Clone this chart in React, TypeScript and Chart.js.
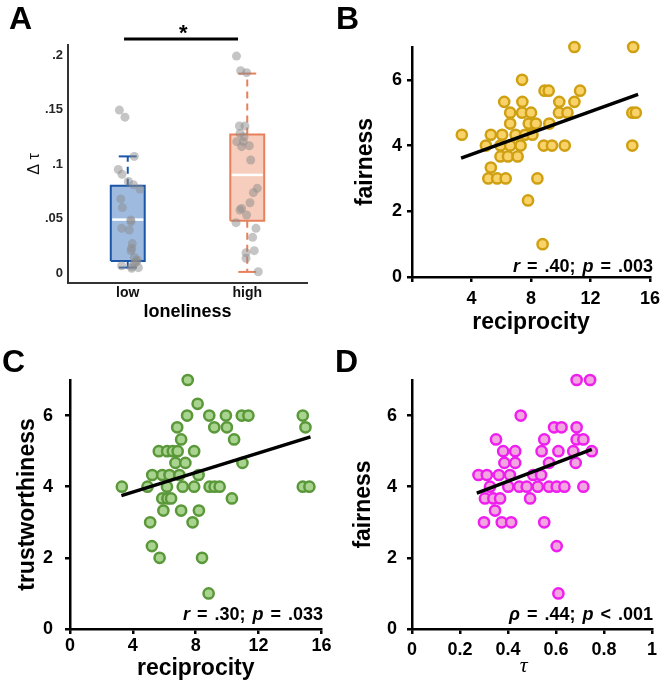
import React, { useEffect, useRef } from 'react';
import { Chart, registerables } from 'chart.js';

Chart.register(...registerables);

const FONT = '"Liberation Sans", Arial, Helvetica, sans-serif';
const SERIF = '"Liberation Serif", "Times New Roman", serif';

// ---------- Panel A : box plot ----------
const groupLabels = ['low', 'high'];
const groupX = [0.5, 1.5];
const boxQ1 = [0.011, 0.048];
const boxQ3 = [0.08, 0.127];
const boxMedian = [0.049, 0.09];
const whiskerLow = [0.005, 0.001];
const whiskerHigh = [0.107, 0.183];
const boxFill = ['rgba(98,146,204,0.62)', 'rgba(242,176,148,0.62)'];
const boxStroke = ['#1a56a8', '#e8805c'];

const lowDotsX = [0.43, 0.477, 0.555, 0.421, 0.452, 0.505, 0.547, 0.603, 0.441, 0.455, 0.527, 0.449, 0.513, 0.538, 0.533, 0.527, 0.555, 0.575, 0.449, 0.533, 0.589, 0.555, 0.525, 0.58, 0.533];
const lowDotsY = [0.1495, 0.143, 0.107, 0.095, 0.0905, 0.084, 0.081, 0.077, 0.068, 0.06, 0.047, 0.041, 0.0395, 0.027, 0.0227, 0.0205, 0.0144, 0.0104, 0.0067, 0.0058, 0.0049, 0.009, 0.0486, 0.012, 0.0043];
const highDotsX = [1.41, 1.445, 1.495, 1.434, 1.481, 1.439, 1.473, 1.412, 1.467, 1.517, 1.453, 1.529, 1.584, 1.551, 1.523, 1.453, 1.439, 1.495, 1.406, 1.573, 1.545, 1.49, 1.559, 1.49, 1.592];
const highDotsY = [0.199, 0.1856, 0.1838, 0.1349, 0.1349, 0.128, 0.125, 0.1205, 0.1205, 0.1168, 0.1159, 0.1037, 0.0777, 0.0737, 0.0645, 0.0593, 0.0578, 0.0532, 0.0462, 0.041, 0.0327, 0.0186, 0.0205, 0.0135, 0.0012];

const aYTicks = [0, 0.05, 0.1, 0.15, 0.2];
const aYTickLabels = ['0', '.05', '.1', '.15', '.2'];
const sigFrom = 0.469;
const sigTo = 1.423;
const sigLevel = 0.2147;
const sigStarX = 0.965;

// ---------- Panel B : fairness vs reciprocity ----------
const panelBPoints = [
  [7.4, 6.0], [8.91, 5.67], [9.19, 5.67], [11.3, 5.67], [10.92, 7.0], [14.87, 7.0],
  [6.2, 5.33], [7.42, 5.33], [9.9, 5.33], [10.92, 5.33],
  [6.6, 5.0], [7.4, 5.0], [8.0, 5.0], [9.88, 5.0], [10.45, 5.0], [14.81, 5.0], [15.05, 5.0],
  [6.6, 4.67], [7.85, 4.67], [8.33, 4.67], [9.23, 4.67],
  [3.35, 4.33], [5.3, 4.33], [6.06, 4.33], [6.96, 4.33], [7.6, 4.33], [8.1, 4.33],
  [4.97, 4.0], [5.95, 4.0], [6.6, 4.0], [7.3, 4.0], [8.86, 4.0], [9.41, 4.0], [10.27, 4.0], [14.81, 4.0],
  [5.95, 3.67], [6.45, 3.67], [7.1, 3.67],
  [5.3, 3.33],
  [5.13, 3.0], [5.73, 3.0], [6.3, 3.0], [8.43, 3.0],
  [7.8, 2.33], [8.78, 1.0],
];
const panelBFit = [[3.3, 3.62], [15.2, 5.56]];

// ---------- Panel C : trustworthiness vs reciprocity ----------
const panelCPoints = [
  [7.49, 7.0], [8.12, 6.33],
  [7.45, 6.0], [8.86, 6.0], [9.92, 6.0], [10.93, 6.0], [11.35, 6.0], [14.81, 6.0],
  [6.82, 5.67], [9.18, 5.67], [9.98, 5.67], [14.98, 5.67],
  [7.07, 5.33], [10.44, 5.33],
  [5.65, 5.0], [6.18, 5.0], [6.54, 5.0], [6.85, 5.0], [7.9, 5.0],
  [6.71, 4.67], [7.34, 4.67], [10.97, 4.67],
  [5.23, 4.33], [5.87, 4.33], [6.33, 4.33], [6.96, 4.33], [8.18, 4.33],
  [3.3, 4.0], [4.93, 4.0], [6.17, 4.0], [7.17, 4.0], [7.9, 4.0], [8.88, 4.0], [9.2, 4.0], [9.52, 4.0], [14.81, 4.0], [15.23, 4.0],
  [5.87, 3.67], [6.2, 3.67], [6.43, 3.67], [10.3, 3.67],
  [5.94, 3.33], [7.07, 3.33], [8.2, 3.33],
  [5.1, 3.0], [7.8, 3.0],
  [5.21, 2.33], [5.7, 2.0], [8.4, 2.0], [8.82, 1.0],
];
const panelCFit = [[3.27, 3.75], [15.3, 5.4]];

// ---------- Panel D : fairness vs tau ----------
const panelDPoints = [
  [0.686, 7.0], [0.742, 7.0],
  [0.453, 6.0],
  [0.592, 5.67], [0.623, 5.67], [0.686, 5.67],
  [0.35, 5.33], [0.551, 5.33], [0.686, 5.33], [0.714, 5.33],
  [0.38, 5.0], [0.43, 5.0], [0.54, 5.0], [0.61, 5.0], [0.672, 5.0], [0.749, 5.0],
  [0.385, 4.67], [0.43, 4.67], [0.571, 4.67], [0.682, 4.67],
  [0.277, 4.33], [0.312, 4.33], [0.362, 4.33], [0.408, 4.33], [0.505, 4.33], [0.538, 4.33],
  [0.325, 4.0], [0.401, 4.0], [0.447, 4.0], [0.478, 4.0], [0.524, 4.0], [0.571, 4.0], [0.603, 4.0], [0.635, 4.0], [0.714, 4.0],
  [0.304, 3.67], [0.339, 3.67], [0.367, 3.67], [0.492, 3.67],
  [0.346, 3.33],
  [0.3, 3.0], [0.374, 3.0], [0.413, 3.0], [0.551, 3.0],
  [0.603, 2.33], [0.61, 1.0],
];
const panelDFit = [[0.27, 3.82], [0.749, 5.05]];

const ratingTicks = [0, 2, 4, 6];
const reciprocityTicks = [0, 4, 8, 12, 16];
const reciprocityTickLabelsB = ['', '4', '8', '12', '16'];
const reciprocityTickLabelsC = ['0', '4', '8', '12', '16'];
const tauTicks = [0, 0.2, 0.4, 0.6, 0.8, 1];
const tauTickLabels = ['0', '0.2', '0.4', '0.6', '0.8', '1'];

function seg(x1: number, y1: number, x2: number, y2: number, color: string, width: number, dash: number[], order: number) {
  return {
    type: 'scatter',
    data: [{ x: x1, y: y1 }, { x: x2, y: y2 }],
    showLine: true,
    borderColor: color,
    borderWidth: width,
    borderDash: dash,
    pointRadius: 0,
    order,
    clip: false,
  };
}

function boxConfig(): any {
  const half = 0.142;
  const datasets: any[] = [];
  groupX.forEach((cx, i) => {
    datasets.push({
      type: 'scatter',
      data: [{ x: cx - half, y: boxQ3[i] }, { x: cx + half, y: boxQ3[i] }],
      showLine: true,
      borderWidth: 0,
      borderColor: 'rgba(0,0,0,0)',
      pointRadius: 0,
      fill: { value: boxQ1[i] },
      backgroundColor: boxFill[i],
      order: 10,
    });
    datasets.push({
      type: 'scatter',
      data: [
        { x: cx - half, y: boxQ1[i] },
        { x: cx + half, y: boxQ1[i] },
        { x: cx + half, y: boxQ3[i] },
        { x: cx - half, y: boxQ3[i] },
        { x: cx - half, y: boxQ1[i] },
      ],
      showLine: true,
      borderColor: boxStroke[i],
      borderWidth: 2,
      pointRadius: 0,
      fill: false,
      order: 9,
    });
    datasets.push(seg(cx, boxQ3[i], cx, whiskerHigh[i], boxStroke[i], 2, [7, 5], 8));
    datasets.push(seg(cx, boxQ1[i], cx, whiskerLow[i], boxStroke[i], 2, [7, 5], 8));
    datasets.push(seg(cx - 0.075, whiskerHigh[i], cx + 0.075, whiskerHigh[i], boxStroke[i], 2, [], 8));
    datasets.push(seg(cx - 0.075, whiskerLow[i], cx + 0.075, whiskerLow[i], boxStroke[i], 2, [], 8));
    datasets.push(seg(cx - 0.13, boxMedian[i], cx + 0.13, boxMedian[i], '#ffffff', 2.5, [], 6));
  });
  datasets.push({
    type: 'scatter',
    data: lowDotsX.map((x, i) => ({ x, y: lowDotsY[i] })),
    backgroundColor: 'rgba(140,140,140,0.5)',
    borderWidth: 0,
    pointRadius: 4.5,
    order: 1,
    clip: false,
  });
  datasets.push({
    type: 'scatter',
    data: highDotsX.map((x, i) => ({ x, y: highDotsY[i] })),
    backgroundColor: 'rgba(140,140,140,0.5)',
    borderWidth: 0,
    pointRadius: 4.5,
    order: 1,
    clip: false,
  });
  datasets.push(seg(sigFrom, sigLevel, sigTo, sigLevel, '#000000', 3, [], 0));

  const starPlugin = {
    id: 'sigStar',
    afterDatasetsDraw(chart: any) {
      const { ctx, scales } = chart;
      ctx.save();
      ctx.font = `bold 22px ${FONT}`;
      ctx.fillStyle = '#000';
      ctx.textAlign = 'center';
      ctx.textBaseline = 'alphabetic';
      ctx.fillText('*', scales.x.getPixelForValue(sigStarX), scales.y.getPixelForValue(sigLevel) + 1);
      ctx.restore();
    },
  };

  return {
    type: 'scatter',
    data: { datasets },
    plugins: [starPlugin],
    options: {
      responsive: false,
      animation: false,
      events: [],
      layout: { padding: { top: 45, right: 23, left: 0, bottom: 0 } },
      plugins: { legend: { display: false }, tooltip: { enabled: false } },
      scales: {
        x: {
          type: 'linear',
          min: 0,
          max: 2,
          offset: false,
          afterBuildTicks: (s: any) => { s.ticks = groupX.map((v) => ({ value: v })); },
          afterFit: (s: any) => { s.height = 52; },
          ticks: {
            autoSkip: false,
            maxRotation: 0,
            padding: 2,
            color: '#111',
            font: { family: FONT, size: 14, weight: 'bold' },
            callback: (_v: any, i: number) => groupLabels[i],
          },
          grid: { display: false, drawTicks: false },
          border: { display: true, color: '#333', width: 2 },
          title: {
            display: true,
            text: 'loneliness',
            color: '#000',
            font: { family: FONT, size: 18, weight: 'bold' },
            padding: { top: 0, bottom: 12 },
          },
        },
        y: {
          type: 'linear',
          min: -0.00917,
          max: 0.2092,
          afterBuildTicks: (s: any) => { s.ticks = aYTicks.map((v) => ({ value: v })); },
          afterFit: (s: any) => { s.width = 68; },
          ticks: {
            autoSkip: false,
            padding: 5,
            color: '#262626',
            font: { family: FONT, size: 13, weight: 'bold' },
            callback: (_v: any, i: number) => aYTickLabels[i],
          },
          grid: { display: false, drawTicks: false },
          border: { display: true, color: '#333', width: 2 },
          title: {
            display: true,
            text: 'Δ τ',
            color: '#111',
            font: { family: FONT, size: 16, weight: 'normal' },
            padding: { top: 25, bottom: 0 },
          },
        },
      },
    },
  };
}

interface ScatterOpts {
  points: number[][];
  fit: number[][];
  fill: string;
  stroke: string;
  xMax: number;
  xTicks: number[];
  xLabels: string[];
  xTitle: string;
  xTitleFont: any;
  xTitlePad: number;
  yTitle: string;
  yTitlePad: number;
  yAxisW: number;
  xAxisH: number;
  padTop: number;
  padRight: number;
  xTickPad: number;
  yTickPad: number;
}

function scatterConfig(o: ScatterOpts): any {
  const tickFont = { family: FONT, size: 18, weight: 'bold' };
  const grid = { display: true, drawOnChartArea: false, drawTicks: true, tickLength: 5, color: '#000', lineWidth: 2.5 };
  const border = { display: true, color: '#000', width: 2.5 };
  return {
    type: 'scatter',
    data: {
      datasets: [
        {
          type: 'scatter',
          data: o.fit.map(([x, y]) => ({ x, y })),
          showLine: true,
          borderColor: '#000',
          borderWidth: 3.5,
          pointRadius: 0,
          order: 0,
        },
        {
          type: 'scatter',
          data: o.points.map(([x, y]) => ({ x, y })),
          backgroundColor: o.fill,
          borderColor: o.stroke,
          borderWidth: 2.5,
          pointRadius: 5.1,
          order: 1,
          clip: false,
        },
      ],
    },
    options: {
      responsive: false,
      animation: false,
      events: [],
      layout: { padding: { top: o.padTop, right: o.padRight, left: 0, bottom: 0 } },
      plugins: { legend: { display: false }, tooltip: { enabled: false } },
      scales: {
        x: {
          type: 'linear',
          min: 0,
          max: o.xMax,
          afterBuildTicks: (s: any) => { s.ticks = o.xTicks.map((v) => ({ value: v })); },
          afterFit: (s: any) => { s.height = o.xAxisH; },
          ticks: {
            autoSkip: false,
            maxRotation: 0,
            padding: o.xTickPad,
            color: '#000',
            font: tickFont,
            callback: (_v: any, i: number) => o.xLabels[i],
          },
          grid,
          border,
          title: { display: true, text: o.xTitle, color: '#000', font: o.xTitleFont, padding: { top: 0, bottom: o.xTitlePad } },
        },
        y: {
          type: 'linear',
          min: 0,
          max: 7,
          afterBuildTicks: (s: any) => { s.ticks = ratingTicks.map((v) => ({ value: v })); },
          afterFit: (s: any) => { s.width = o.yAxisW; },
          ticks: {
            autoSkip: false,
            padding: o.yTickPad,
            color: '#000',
            font: tickFont,
            callback: (v: any) => String(v),
          },
          grid,
          border,
          title: {
            display: true,
            text: o.yTitle,
            color: '#000',
            font: { family: FONT, size: 23, weight: 'bold' },
            padding: { top: o.yTitlePad, bottom: 0 },
          },
        },
      },
    },
  };
}

const titleFont = { family: FONT, size: 23, weight: 'bold' };

function ChartCanvas(props: { make: () => any; left: number; top: number; width: number; height: number }) {
  const ref = useRef<HTMLCanvasElement>(null);
  useEffect(() => {
    const chart = new Chart(ref.current as HTMLCanvasElement, props.make());
    return () => chart.destroy();
  }, []);
  return (
    <canvas
      ref={ref}
      width={props.width}
      height={props.height}
      style={{ position: 'absolute', left: props.left, top: props.top, width: props.width, height: props.height, display: 'block' }}
    />
  );
}

const letterStyle = (left: number, top: number): React.CSSProperties => ({
  position: 'absolute',
  left,
  top,
  font: `bold 32px ${FONT}`,
  lineHeight: '32px',
  color: '#000',
});

const statStyle = (right: number, top: number): React.CSSProperties => ({
  position: 'absolute',
  right,
  top,
  font: `bold 18px ${FONT}`,
  lineHeight: '18px',
  color: '#000',
  whiteSpace: 'nowrap',
  wordSpacing: '2px',
});

export default function App() {
  return (
    <div style={{ position: 'absolute', left: 0, top: 0, width: 666, height: 686, background: '#fff', overflow: 'hidden' }}>
      <ChartCanvas make={boxConfig} left={0} top={0} width={330} height={335} />
      <ChartCanvas
        make={() =>
          scatterConfig({
            points: panelBPoints, fit: panelBFit, fill: '#f9d36a', stroke: '#cfa012',
            xMax: 16, xTicks: reciprocityTicks, xLabels: reciprocityTickLabelsB,
            xTitle: 'reciprocity', xTitleFont: titleFont, xTitlePad: 4,
            yTitle: 'fairness', yTitlePad: 19, yAxisW: 79, xAxisH: 63, padTop: 47, padRight: 9,
            xTickPad: 6, yTickPad: 5,
          })
        }
        left={333} top={0} width={333} height={340}
      />
      <ChartCanvas
        make={() =>
          scatterConfig({
            points: panelCPoints, fit: panelCFit, fill: '#a9d48f', stroke: '#5a983a',
            xMax: 16, xTicks: reciprocityTicks, xLabels: reciprocityTickLabelsC,
            xTitle: 'reciprocity', xTitleFont: titleFont, xTitlePad: 3.5,
            yTitle: 'trustworthiness', yTitlePad: 14, yAxisW: 70, xAxisH: 57, padTop: 40, padRight: 11,
            xTickPad: 1.5, yTickPad: 12,
          })
        }
        left={0} top={340} width={333} height={346}
      />
      <ChartCanvas
        make={() =>
          scatterConfig({
            points: panelDPoints, fit: panelDFit, fill: '#f2a6df', stroke: '#ee1fee',
            xMax: 1, xTicks: tauTicks, xLabels: tauTickLabels,
            xTitle: 'τ   ', xTitleFont: { family: SERIF, size: 22, style: 'italic', weight: 'normal' }, xTitlePad: 6.5,
            yTitle: 'fairness', yTitlePad: 16.5, yAxisW: 79, xAxisH: 57, padTop: 40, padRight: 14,
            xTickPad: 5.5, yTickPad: 10,
          })
        }
        left={333} top={340} width={333} height={346}
      />
      <div style={letterStyle(9, 2)}>A</div>
      <div style={letterStyle(336, 2)}>B</div>
      <div style={letterStyle(2, 345)}>C</div>
      <div style={letterStyle(335, 345)}>D</div>
      <div style={statStyle(13, 257)}><i>r</i> = .40; <i>p</i> = .003</div>
      <div style={statStyle(343, 605)}><i>r</i> = .30; <i>p</i> = .033</div>
      <div style={statStyle(13, 605)}><i>ρ</i> = .44; <i>p</i> &lt; .001</div>
    </div>
  );
}
